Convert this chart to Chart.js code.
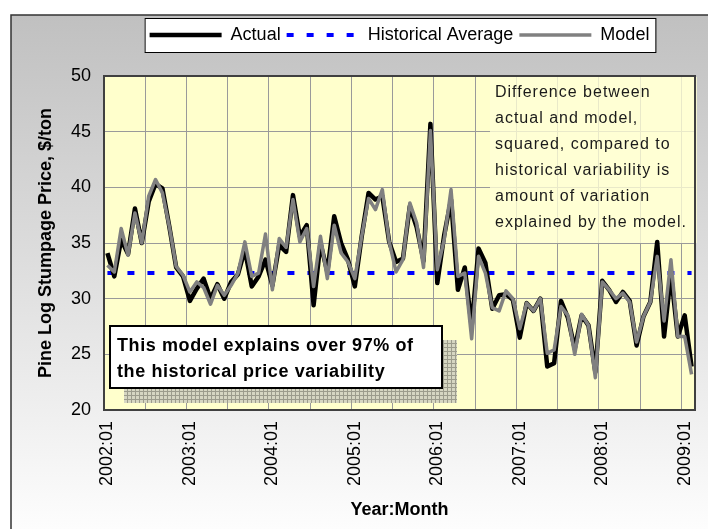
<!DOCTYPE html>
<html lang="en">
<head>
    <meta charset="UTF-8">
    <title>Pine Log Stumpage Price</title>
    <script src="https://cdn.jsdelivr.net/npm/chart.js@4"></script>
    <style>
        body {
            margin: 0;
            background: #fff;
        }
        #wrap {
            width: 708px;
            height: 529px;
        }
    </style>
</head>
<body>
    <div id="wrap"><canvas id="priceChart" width="708" height="529"></canvas></div>

    <script>
        // months 2002:01 .. 2009:02
        const firstYear = 2002;
        const monthCount = 86;
        const months = [];
        for (let i = 0; i < monthCount; i++) {
            const yr = firstYear + Math.floor(i / 12);
            const mo = String((i % 12) + 1).padStart(2, '0');
            months.push(yr + ':' + mo);
        }

        const actualPrice = [
            34.1, 32.0, 35.3, 34.0, 38.1, 35.0, 38.7, 40.3, 39.9, 36.5, 32.8, 32.0,
            29.8, 30.9, 31.8, 30.0, 31.3, 30.0, 31.5, 32.2, 34.4, 31.1, 32.0, 33.5,
            31.2, 34.8, 34.2, 39.3, 35.6, 36.6, 29.4, 35.0, 32.4, 37.4, 35.0, 33.5,
            31.1, 35.6, 39.5, 38.9, 39.2, 35.1, 33.3, 33.6, 38.3, 36.4, 33.4, 45.7,
            31.4, 35.7, 38.9, 30.8, 32.8, 27.5, 34.5, 33.2, 29.1, 30.3, 30.4, 29.9,
            26.5, 29.6, 28.9, 30.0, 23.9, 24.2, 29.8, 28.3, 25.5, 28.5, 27.6, 23.4,
            31.6, 30.8, 29.7, 30.6, 29.8, 25.8, 28.4, 29.7, 35.1, 26.6, 32.2, 26.6,
            28.5, 23.9
        ];

        const modelPrice = [
            33.0, 32.4, 36.3, 33.9, 37.7, 35.0, 39.2, 40.7, 39.5, 36.5, 32.9, 32.1,
            30.6, 31.5, 31.0, 29.5, 31.2, 30.3, 31.2, 32.3, 35.1, 32.0, 32.3, 35.8,
            30.8, 35.4, 34.6, 38.9, 35.1, 36.3, 31.1, 35.6, 31.8, 36.6, 34.1, 33.3,
            31.8, 35.6, 39.0, 38.0, 39.8, 35.1, 32.4, 33.5, 38.6, 36.8, 32.8, 45.1,
            32.6, 35.3, 39.8, 32.0, 32.3, 26.4, 33.8, 32.3, 29.2, 28.9, 30.7, 30.0,
            27.3, 29.6, 28.9, 30.0, 25.1, 25.4, 29.3, 28.5, 25.0, 28.6, 27.6, 22.9,
            31.5, 30.8, 30.0, 30.5, 29.7, 26.1, 28.4, 29.7, 33.8, 28.0, 33.5, 26.6,
            26.6, 23.2
        ];

        const historicalAverage = 32.3;

        const yTicks = { min: 20, max: 50, step: 5 };

        const noteLeft = ['This model explains over 97% of', 'the historical price variability'];
        const noteRight = [
            'Difference between',
            'actual and model,',
            'squared, compared to',
            'historical variability is',
            'amount of variation',
            'explained by the model.'
        ];

        const FONT = '"Liberation Sans", Arial, sans-serif';

        // legend gets extra room underneath so the plot starts lower
        const legendGap = {
            id: 'legendGap',
            beforeLayout(chart) {
                const lg = chart.legend;
                if (lg && !lg._patched) {
                    const fit = lg.fit;
                    lg.fit = function () {
                        fit.call(this);
                        this.height = 56;
                    };
                    lg._patched = true;
                }
            }
        };

        function hatchPattern(ctx) {
            const c = document.createElement('canvas');
            c.width = 4;
            c.height = 4;
            const p = c.getContext('2d');
            p.fillStyle = '#d6d6c2';
            p.fillRect(0, 0, 4, 4);
            p.fillStyle = '#9c9c8c';
            p.fillRect(0, 3, 4, 1);
            p.fillRect(3, 0, 1, 4);
            return ctx.createPattern(c, 'repeat');
        }

        const decorations = {
            id: 'decorations',
            beforeDraw(chart) {
                const { ctx, width, height, chartArea: a } = chart;
                ctx.save();
                ctx.fillStyle = '#fff';
                ctx.fillRect(0, 0, width, height);
                const g = ctx.createLinearGradient(0, 15, 0, height);
                g.addColorStop(0, '#c0c0c0');
                g.addColorStop(1, '#fdfdfd');
                ctx.fillStyle = g;
                ctx.fillRect(11, 15, width - 11, height - 15);
                ctx.strokeStyle = '#333';
                ctx.lineWidth = 1.5;
                ctx.beginPath();
                ctx.moveTo(11, height);
                ctx.lineTo(11, 15);
                ctx.lineTo(width, 15);
                ctx.stroke();

                ctx.fillStyle = '#ffffcc';
                ctx.fillRect(a.left, a.top, a.right - a.left, a.bottom - a.top);

                // legend frame
                const hb = chart.legend.legendHitBoxes;
                if (hb && hb.length) {
                    const l = Math.min(...hb.map(b => b.left)) - 5;
                    const r = Math.max(...hb.map(b => b.left + b.width)) + 6;
                    const t = hb[0].top - 8;
                    const b = hb[0].top + hb[0].height + 8;
                    ctx.fillStyle = '#fff';
                    ctx.fillRect(l, t, r - l, b - t);
                    ctx.strokeStyle = '#000';
                    ctx.lineWidth = 1;
                    ctx.strokeRect(l + 0.5, t + 0.5, r - l, b - t);
                }
                ctx.restore();
            },
            beforeDatasetsDraw(chart) {
                const { ctx, chartArea: a } = chart;
                ctx.save();
                ctx.fillStyle = 'rgba(255, 255, 214, 0.78)';
                ctx.fillRect(490, a.top + 1, 207, 166);
                ctx.fillStyle = '#1a1a1a';
                ctx.font = '16px ' + FONT;
                ctx.letterSpacing = '1px';
                ctx.textBaseline = 'alphabetic';
                noteRight.forEach((line, i) => ctx.fillText(line, 495, 97 + i * 26));
                ctx.restore();
            },
            afterDatasetsDraw(chart) {
                const { ctx, chartArea: a } = chart;
                ctx.save();
                ctx.strokeStyle = '#404040';
                ctx.lineWidth = 2;
                ctx.strokeRect(a.left, a.top, a.right - a.left, a.bottom - a.top);

                ctx.fillStyle = hatchPattern(ctx);
                ctx.fillRect(124, 340, 333, 63);
                ctx.fillStyle = '#fff';
                ctx.fillRect(110, 326, 332, 62);
                ctx.strokeStyle = '#000';
                ctx.lineWidth = 2;
                ctx.strokeRect(110, 326, 332, 62);
                ctx.fillStyle = '#000';
                ctx.font = 'bold 18px ' + FONT;
                ctx.letterSpacing = '0.6px';
                ctx.fillText(noteLeft[0], 117, 346);
                ctx.fillText(noteLeft[1], 117, 372);
                ctx.restore();
            }
        };

        const ctx = document.getElementById('priceChart').getContext('2d');
        const priceChart = new Chart(ctx, {
            type: 'line',
            data: {
                labels: months,
                datasets: [
                    {
                        label: 'Actual',
                        data: actualPrice,
                        borderColor: '#000000',
                        borderWidth: 4.5,
                        order: 1
                    },
                    {
                        label: 'Historical Average',
                        data: months.map(() => historicalAverage),
                        borderColor: '#0000ff',
                        borderWidth: 4,
                        borderDash: [7, 13],
                        borderJoinStyle: 'miter',
                        order: 2
                    },
                    {
                        label: 'Model',
                        data: modelPrice,
                        borderColor: '#808080',
                        borderWidth: 3.5,
                        order: 0
                    }
                ]
            },
            options: {
                responsive: false,
                animation: false,
                devicePixelRatio: 1,
                elements: {
                    point: { radius: 0, hoverRadius: 0 },
                    line: { tension: 0, borderJoinStyle: 'round', fill: false }
                },
                layout: { padding: { top: 20, left: 20, right: 13, bottom: 8 } },
                plugins: {
                    tooltip: { enabled: false },
                    legend: {
                        position: 'top',
                        fullSize: false,
                        labels: {
                            color: '#000',
                            font: { family: FONT, size: 18 },
                            padding: 6,
                            usePointStyle: true,
                            pointStyleWidth: 72,
                            generateLabels: chart => chart.data.datasets.map((ds, i) => ({
                                text: ds.label,
                                datasetIndex: i,
                                pointStyle: 'line',
                                strokeStyle: ds.borderColor,
                                fillStyle: ds.borderColor,
                                lineWidth: ds.borderWidth,
                                lineDash: ds.borderDash || [],
                                fontColor: '#000',
                                hidden: false
                            }))
                        }
                    }
                },
                scales: {
                    x: {
                        offset: true,
                        grid: {
                            offset: true,
                            drawTicks: false,
                            lineWidth: 1,
                            color: c => (c.index % 6 === 0 ? '#9a9a9a' : 'rgba(0,0,0,0)')
                        },
                        border: { display: false },
                        ticks: {
                            autoSkip: false,
                            minRotation: 90,
                            maxRotation: 90,
                            padding: 11,
                            color: '#000',
                            font: { family: FONT, size: 18 },
                            callback: function (val, idx) {
                                return idx % 12 === 0 ? this.getLabelForValue(val) : '';
                            }
                        },
                        title: {
                            display: true,
                            text: 'Year:Month',
                            color: '#000',
                            font: { family: FONT, size: 18, weight: 'bold' },
                            padding: { top: 0, bottom: 0 }
                        },
                        afterFit: s => {
                            s.height = 111;
                            s.paddingLeft = 0;
                            s.paddingRight = 0;
                        }
                    },
                    y: {
                        min: yTicks.min,
                        max: yTicks.max,
                        grid: { color: '#9a9a9a', drawTicks: false },
                        border: { display: false },
                        ticks: {
                            stepSize: yTicks.step,
                            padding: 13,
                            color: '#000',
                            font: { family: FONT, size: 18 }
                        },
                        title: {
                            display: true,
                            text: 'Pine Log Stumpage Price, $/ton',
                            color: '#000',
                            font: { family: FONT, size: 18, weight: 'bold' },
                            padding: { top: 15, bottom: 0 }
                        },
                        afterFit: s => { s.width = 84; }
                    }
                }
            },
            plugins: [legendGap, decorations]
        });
    </script>
</body>
</html>
